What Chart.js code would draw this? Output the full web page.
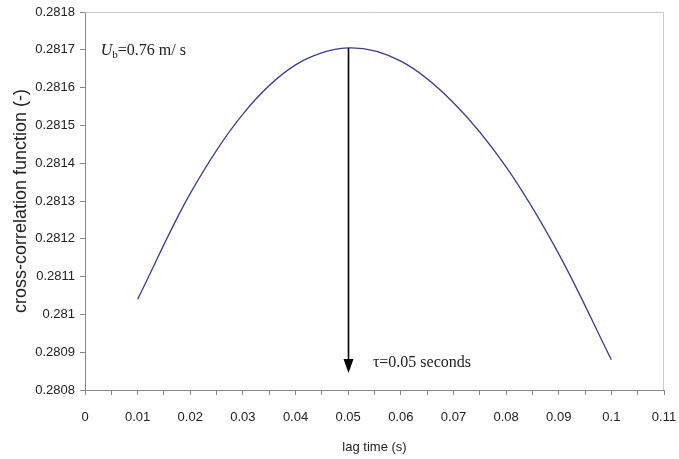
<!DOCTYPE html>
<html>
<head>
<meta charset="utf-8">
<script src="https://cdn.jsdelivr.net/npm/chart.js@4.4.1/dist/chart.umd.min.js"></script>
<style>
  body { margin: 0; background: #fff; }
</style>
</head>
<body>
<canvas id="ccf" width="679" height="459"></canvas>
<script>
// lag time (s) and cross-correlation values
const lagTime = [0.01, 0.02, 0.03, 0.04, 0.05, 0.06, 0.07, 0.08, 0.09, 0.10];
const corr = [0.28104, 0.28132, 0.28153, 0.28166, 0.281705, 0.28167, 0.28156, 0.28139, 0.28116, 0.28088];

const peakLag = 0.05;        // tau
const arrowTipValue = 0.280845;
const velocityText = '=0.76 m/ s';
const tauText = '\u03c4=0.05 seconds';

const ctx = document.getElementById('ccf').getContext('2d');

const extras = {
    id: 'extras',
    beforeDatasetsDraw(chart) {
        const a = chart.chartArea;
        const c = chart.ctx;
        c.save();
        c.strokeStyle = '#c8c8c8';
        c.lineWidth = 1;
        c.beginPath();
        c.moveTo(a.left, a.top + 0.5);
        c.lineTo(a.right - 0.5, a.top + 0.5);
        c.lineTo(a.right - 0.5, a.bottom);
        c.stroke();
        c.restore();
    },
    afterDatasetsDraw(chart) {
        const xs = chart.scales.x, ys = chart.scales.y;
        const c = chart.ctx;
        c.save();

        // arrow from the peak down to the lag-time axis
        const px = Math.round(xs.getPixelForValue(peakLag)) + 0.5;
        const top = ys.getPixelForValue(corr[lagTime.indexOf(peakLag)]);
        const tip = ys.getPixelForValue(arrowTipValue);
        c.strokeStyle = '#000';
        c.fillStyle = '#000';
        c.lineWidth = 1.6;
        c.beginPath();
        c.moveTo(px, top);
        c.lineTo(px, tip - 12);
        c.stroke();
        c.beginPath();
        c.moveTo(px - 5, tip - 14);
        c.lineTo(px + 5, tip - 14);
        c.lineTo(px, tip);
        c.closePath();
        c.fill();

        // U_b label
        c.fillStyle = '#222';
        c.textBaseline = 'alphabetic';
        let x = xs.getPixelForValue(0.003);
        const y1 = ys.getPixelForValue(0.2817) + 5;
        c.font = 'italic 16px "Liberation Serif", "Times New Roman", serif';
        c.fillText('U', x, y1);
        x += c.measureText('U').width;
        c.font = '11px "Liberation Serif", "Times New Roman", serif';
        c.fillText('b', x, y1 + 3);
        x += c.measureText('b').width;
        c.font = '16px "Liberation Serif", "Times New Roman", serif';
        c.fillText(velocityText, x, y1);

        // tau label
        c.fillText(tauText, xs.getPixelForValue(0.0547), ys.getPixelForValue(0.28086));
        c.restore();
    }
};

new Chart(ctx, {
    type: 'line',
    data: {
        datasets: [{
            data: lagTime.map((t, i) => ({ x: t, y: corr[i] })),
            borderColor: '#3a3a9c',
            borderWidth: 1.3,
            pointRadius: 0,
            tension: 0.33,
            fill: false
        }]
    },
    options: {
        responsive: false,
        animation: false,
        layout: { padding: { top: 12, right: 15, left: 0, bottom: 0 } },
        plugins: { legend: { display: false }, tooltip: { enabled: false } },
        scales: {
            x: {
                type: 'linear',
                min: 0,
                max: 0.11,
                afterFit(scale) {
                    scale.height = 69;
                    scale.paddingLeft = 0;
                    scale.paddingRight = 0;
                },
                grid: { drawOnChartArea: false, tickLength: 5, color: '#888' },
                border: { color: '#888' },
                ticks: {
                    stepSize: 0.005,
                    autoSkip: false,
                    maxRotation: 0,
                    padding: 15,
                    color: '#222',
                    font: { family: '"Liberation Sans", Arial, sans-serif', size: 13 },
                    callback: (v, i) => i % 2 === 0 ? String(+v.toFixed(3)) : ''
                },
                title: {
                    display: true,
                    text: 'lag time (s)',
                    color: '#222',
                    padding: { top: 0, bottom: 4 },
                    font: { family: '"Liberation Sans", Arial, sans-serif', size: 13 }
                }
            },
            y: {
                min: 0.2808,
                max: 0.2818,
                afterFit(scale) {
                    scale.width = 85;
                    scale.paddingTop = 0;
                    scale.paddingBottom = 0;
                },
                grid: { drawOnChartArea: false, tickLength: 5, color: '#888' },
                border: { color: '#888' },
                ticks: {
                    stepSize: 0.0001,
                    padding: 5,
                    color: '#222',
                    font: { family: '"Liberation Sans", Arial, sans-serif', size: 13 },
                    callback: v => String(+v.toFixed(4))
                },
                title: {
                    display: true,
                    text: 'cross-correlation function (-)',
                    color: '#222',
                    padding: { top: 10, bottom: 0 },
                    font: { family: '"Liberation Sans", Arial, sans-serif', size: 18 }
                }
            }
        }
    },
    plugins: [extras]
});
</script>
</body>
</html>
